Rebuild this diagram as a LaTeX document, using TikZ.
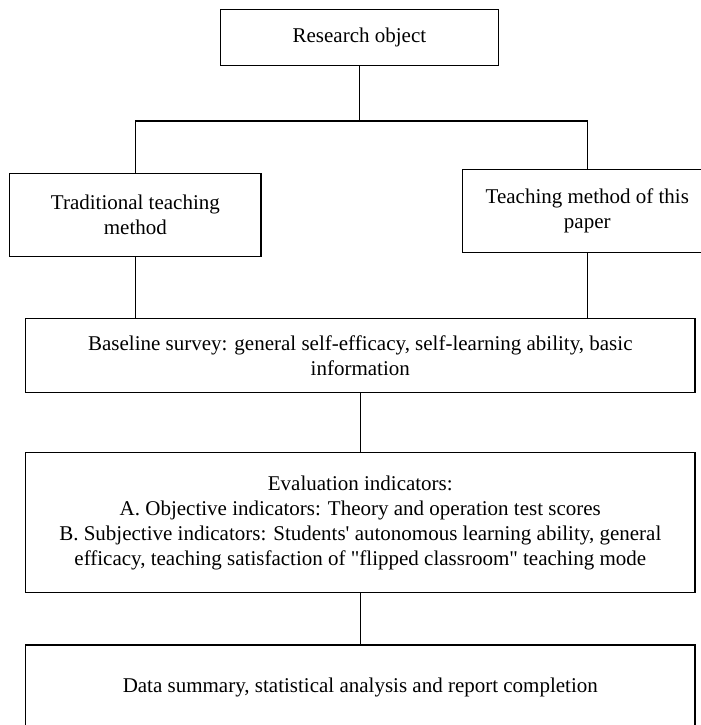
\documentclass[tikz,border=0pt]{standalone}
\usepackage{fontspec}
\setmainfont{Liberation Serif}[Ligatures=TeXOff]
\begin{document}
\begin{tikzpicture}[x=0.5pt,y=-0.5pt,
  box/.style={draw, line width=0.6pt, rectangle, inner sep=0pt, align=center,
    font=\fontsize{10.5pt}{12.5pt}\selectfont},
  conn/.style={draw, line width=0.55pt}]
\useasboundingbox (0,0) rectangle (701,725);
\node[box, minimum width=139pt, minimum height=28pt] (ro) at (359.4,37.3) {Research object};
\node[box, minimum width=125.6pt, minimum height=41.7pt] (trad) at (135.4,215) {Traditional teaching\\method};
\node[box, minimum width=124.5pt, minimum height=41.5pt] (tm) at (587.3,210.8) {Teaching method of this\\paper};
\node[box, minimum width=334.75pt, minimum height=37pt] (base) at (360.3,355.3) {Baseline survey: general self-efficacy, self-learning ability, basic\\information};
\node[box, minimum width=334.75pt, minimum height=69.8pt] (eval) at (360.3,522.5) {Evaluation indicators:\\A. Objective indicators: Theory and operation test scores\\B. Subjective indicators: Students' autonomous learning ability, general\\efficacy, teaching satisfaction of "flipped classroom" teaching mode};
\node[box, minimum width=334.75pt, minimum height=42.5pt] (data) at (360.3,687.5) {Data summary, statistical analysis and report completion};
\coordinate (j) at (359.4,121);
\draw[conn] (ro.south) -- (j);
\draw[conn] (trad.north) |- (j) -| (tm.north);
\draw[conn] (trad.south) -- (trad.south |- base.north);
\draw[conn] (tm.south) -- (tm.south |- base.north);
\draw[conn] (base.south) -- (eval.north);
\draw[conn] (eval.south) -- (data.north);
\end{tikzpicture}
\end{document}
